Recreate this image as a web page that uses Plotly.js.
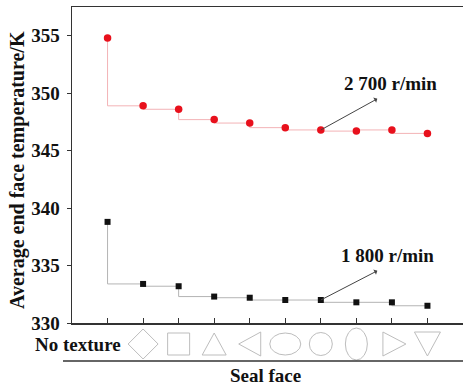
<!DOCTYPE html>
<html>
<head>
<meta charset="utf-8">
<script src="https://cdn.plot.ly/plotly-3.0.1.min.js"></script>
<style>
  html, body { margin: 0; padding: 0; background: #fff; }
  #chart { width: 463px; height: 386px; }
</style>
</head>
<body>
<div id="chart"></div>
<script>
// Seal face index: 0 = no texture, 1..9 = textured faces
const faceIndex = [0, 1, 2, 3, 4, 5, 6, 7, 8, 9];
const faceKinds = ['none', 'diamond', 'square', 'triangle-up', 'triangle-left',
                   'ellipse-wide', 'circle', 'ellipse-tall', 'triangle-right', 'triangle-down'];

// Average end face temperature (K)
const temp2700 = [354.8, 348.9, 348.6, 347.7, 347.4, 347.0, 346.8, 346.7, 346.8, 346.5];
const temp1800 = [338.8, 333.4, 333.2, 332.3, 332.2, 332.0, 332.0, 331.8, 331.8, 331.5];

const speedLabels = ['2 700 r/min', '1 800 r/min'];
const yTicks = [330, 335, 340, 345, 350, 355];

const FONT = 'Liberation Serif, Times New Roman, serif';
const AXIS = '#333333';

const traces = [
  {
    x: faceIndex, y: temp2700, type: 'scatter', mode: 'lines+markers',
    line: { shape: 'vh', color: '#f3b3b6', width: 1 },
    marker: { symbol: 'circle', size: 7.5, color: '#e8101c' },
    name: speedLabels[0], showlegend: false, hoverinfo: 'skip'
  },
  {
    x: faceIndex, y: temp1800, type: 'scatter', mode: 'lines+markers',
    line: { shape: 'vh', color: '#b4b4b4', width: 1 },
    marker: { symbol: 'square', size: 6, color: '#111111' },
    name: speedLabels[1], showlegend: false, hoverinfo: 'skip'
  }
];

// Outline icons of the texture geometry under each tick (pixel-sized, anchored on the category)
const ICON_Y = -0.0665;
const iconStyle = { color: '#bdbdbd', width: 1 };
function iconShape(kind, xi) {
  const base = { xref: 'x', yref: 'paper', xsizemode: 'pixel', ysizemode: 'pixel',
                 xanchor: xi, yanchor: ICON_Y, line: iconStyle, fillcolor: 'rgba(0,0,0,0)' };
  const paths = {
    'diamond':        'M0,15 L15,0 L0,-15 L-15,0 Z',
    'square':         'M-11,-11 L11,-11 L11,11 L-11,11 Z',
    'triangle-up':    'M-12,-11 L12,-11 L0,11 Z',
    'triangle-left':  'M11,12 L11,-12 L-11,0 Z',
    'triangle-right': 'M-9,12 L-9,-12 L14,0 Z',
    'triangle-down':  'M-13,12 L13,12 L0,-12 Z'
  };
  const ovals = {
    'ellipse-wide': [15.5, 11],
    'circle':       [11.5, 11.5],
    'ellipse-tall': [11, 16]
  };
  if (paths[kind]) return Object.assign(base, { type: 'path', path: paths[kind] });
  if (ovals[kind]) {
    const [rx, ry] = ovals[kind];
    return Object.assign(base, { type: 'circle', x0: -rx, x1: rx, y0: -ry, y1: ry });
  }
  return null;
}

const shapes = faceIndex.map((xi, i) => iconShape(faceKinds[i], xi)).filter(s => s);
// rule separating the icon row from the axis title
shapes.push({ type: 'line', xref: 'paper', yref: 'paper', x0: -0.023, x1: 1, y0: -0.1203, y1: -0.1203,
              line: { color: AXIS, width: 1.5 } });

const labelFont = { family: FONT, size: 19, color: '#111', weight: 'bold' };
const yTitleFont = { family: FONT, size: 20, color: '#111', weight: 'bold' };

const annotations = [
  // arrows from the series to their speed labels
  { x: faceIndex[6], y: temp2700[6], xref: 'x', yref: 'y', text: '', showarrow: true,
    ax: 58, ay: -32, arrowside: 'start', arrowhead: 2, arrowsize: 1, arrowwidth: 1,
    arrowcolor: '#444', standoff: 0, startstandoff: 0 },
  { x: faceIndex[6], y: temp1800[6], xref: 'x', yref: 'y', text: '', showarrow: true,
    ax: 58, ay: -30, arrowside: 'start', arrowhead: 2, arrowsize: 1, arrowwidth: 1,
    arrowcolor: '#444', standoff: 0, startstandoff: 0 },
  { x: 7.96, y: 350.8, xref: 'x', yref: 'y', text: speedLabels[0], showarrow: false,
    xanchor: 'center', yanchor: 'middle', font: labelFont },
  { x: 7.88, y: 335.9, xref: 'x', yref: 'y', text: speedLabels[1], showarrow: false,
    xanchor: 'center', yanchor: 'middle', font: labelFont },
  // first category label
  { x: faceIndex[0], y: ICON_Y, xref: 'x', yref: 'paper', text: 'No texture', showarrow: false,
    xanchor: 'right', yanchor: 'middle', xshift: 15, font: labelFont },
  // axis titles
  { x: 0.494, y: -0.1646, xref: 'paper', yref: 'paper', text: 'Seal face', showarrow: false,
    xanchor: 'center', yanchor: 'middle', font: labelFont },
  { x: -0.1407, y: 0.484, xref: 'paper', yref: 'paper', text: 'Average end face temperature/K',
    showarrow: false, textangle: -90, xanchor: 'center', yanchor: 'middle', font: yTitleFont }
];

const layout = {
  width: 463, height: 386,
  margin: { l: 72, r: 0, t: 7, b: 63, pad: 0 },
  paper_bgcolor: '#ffffff', plot_bgcolor: '#ffffff',
  showlegend: false,
  xaxis: {
    range: [-1, 10], tickvals: faceIndex, showticklabels: false,
    ticks: 'inside', ticklen: 5, tickwidth: 1, tickcolor: AXIS,
    showline: true, linecolor: AXIS, linewidth: 1.5, mirror: true,
    showgrid: false, zeroline: false, fixedrange: true
  },
  yaxis: {
    range: [330, 357.5], tickvals: yTicks,
    ticks: 'outside', ticklen: 4, tickwidth: 1, tickcolor: AXIS,
    ticklabelstandoff: 3,
    showline: true, linecolor: AXIS, linewidth: 1.5,
    showgrid: false, zeroline: false, fixedrange: true,
    tickfont: { family: FONT, size: 19, color: '#111', weight: 'bold' }
  },
  shapes: shapes,
  annotations: annotations
};

Plotly.newPlot('chart', traces, layout, { staticPlot: true, displayModeBar: false });
</script>
</body>
</html>
